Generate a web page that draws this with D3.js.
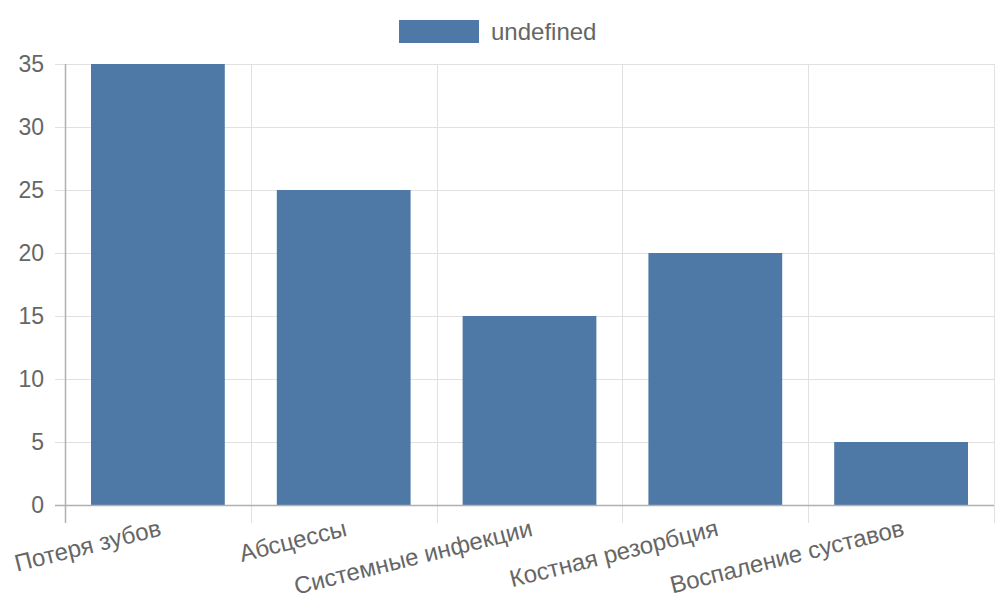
<!DOCTYPE html>
<html>
<head>
<meta charset="utf-8">
<script src="https://d3js.org/d3.v7.min.js"></script>
<style>
  body { margin: 0; background: #fff; }
  text { font-family: "Liberation Sans", Arial, sans-serif; fill: #666; }
</style>
</head>
<body>
<svg width="1000" height="600"></svg>
<script>
var categories = ["Потеря зубов", "Абсцессы", "Системные инфекции", "Костная резорбция", "Воспаление суставов"];
var values = [35, 25, 15, 20, 5];
var yTicks = [0, 5, 10, 15, 20, 25, 30, 35];
var seriesName = "undefined";

var svg = d3.select("svg");
var plotLeft = 65, plotRight = 994, plotTop = 64, plotBottom = 505;
var barColor = "#4e79a7";

var x = d3.scaleBand().domain(categories).range([plotLeft, plotRight]);
var y = d3.scaleLinear().domain([0, 35]).range([plotBottom, plotTop]);

// horizontal grid + tick marks
svg.append("g").selectAll("line").data(yTicks).enter().append("line")
  .attr("x1", plotLeft - 10).attr("x2", plotRight)
  .attr("y1", d => Math.round(y(d)) + 0.5).attr("y2", d => Math.round(y(d)) + 0.5)
  .attr("stroke", "#e1e1e1").attr("stroke-width", 1);

// vertical grid lines at category boundaries
var xEdges = categories.map(c => x(c)).concat([plotRight]);
svg.append("g").selectAll("line").data(xEdges).enter().append("line")
  .attr("x1", d => Math.round(d) + 0.5).attr("x2", d => Math.round(d) + 0.5)
  .attr("y1", plotTop).attr("y2", plotBottom + 18)
  .attr("stroke", "#e1e1e1").attr("stroke-width", 1);

// bars
var inner = x.bandwidth() * 0.72;
svg.append("g").selectAll("rect").data(values).enter().append("rect")
  .attr("x", (d, i) => x(categories[i]) + (x.bandwidth() - inner) / 2)
  .attr("width", inner)
  .attr("y", d => y(d))
  .attr("height", d => y(0) - y(d))
  .attr("fill", barColor);

// axis lines
svg.append("line").attr("x1", plotLeft + 0.5).attr("x2", plotLeft + 0.5)
  .attr("y1", plotTop).attr("y2", plotBottom + 18)
  .attr("stroke", "#b0b0b0").attr("stroke-width", 1.5);
svg.append("line").attr("x1", plotLeft - 10).attr("x2", plotRight)
  .attr("y1", plotBottom + 0.5).attr("y2", plotBottom + 0.5)
  .attr("stroke", "#b0b0b0").attr("stroke-width", 1.5);

// y tick labels
svg.append("g").selectAll("text").data(yTicks).enter().append("text")
  .attr("x", 44).attr("y", d => y(d))
  .attr("dy", "0.35em")
  .attr("text-anchor", "end")
  .style("font-size", "23px")
  .text(d => d);

// x tick labels, rotated
svg.append("g").selectAll("text").data(categories).enter().append("text")
  .attr("transform", d => "translate(" + (x(d) + x.bandwidth() / 2) + "," + (plotBottom + 13) + ") rotate(-14)")
  .attr("text-anchor", "end")
  .attr("dy", "0.75em")
  .style("font-size", "24px")
  .text(d => d);

// legend
svg.append("rect").attr("x", 399).attr("y", 20).attr("width", 80).attr("height", 23)
  .attr("fill", barColor);
svg.append("text").attr("x", 491).attr("y", 32).attr("dy", "0.35em")
  .style("font-size", "24px")
  .text(seriesName);
</script>
</body>
</html>
